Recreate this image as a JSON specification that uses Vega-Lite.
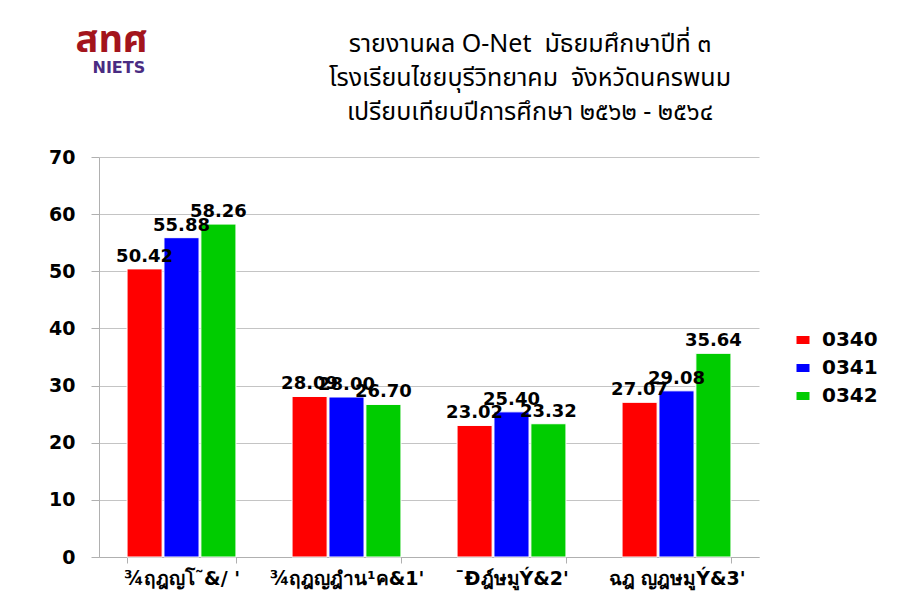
{
  "$schema": "https://vega.github.io/schema/vega-lite/v6.json",
  "width": 660,
  "height": 400,
  "autosize": {"type": "none"},
  "padding": {"left": 99, "top": 157, "right": 155, "bottom": 34},
  "background": "white",
  "config": {"view": {"stroke": null}},
  "title": {
    "text": ["รายงานผล O-Net \u00a0มัธยมศึกษาปีที่ ๓", "โรงเรียนไชยบุรีวิทยาคม \u00a0จังหวัดนครพนม", "เปรียบเทียบปีการศึกษา ๒๕๖๒ - ๒๕๖๔"],
    "anchor": "middle",
    "frame": "group",
    "dx": 101,
    "dy": 108,
    "font": "Noto Sans Thai",
    "fontSize": 25,
    "fontWeight": "normal",
    "color": "#000000",
    "lineHeight": 34
  },
  "data": {
    "values": [
      {"subject": "¾ฤฎญโ˜&/ '", "year": "0340", "score": 50.42},
      {"subject": "¾ฤฎญโ˜&/ '", "year": "0341", "score": 55.88},
      {"subject": "¾ฤฎญโ˜&/ '", "year": "0342", "score": 58.26},
      {"subject": "¾ฤฎญฎำน¹ค&1'", "year": "0340", "score": 28.09},
      {"subject": "¾ฤฎญฎำน¹ค&1'", "year": "0341", "score": 28.00},
      {"subject": "¾ฤฎญฎำน¹ค&1'", "year": "0342", "score": 26.70},
      {"subject": "¯Ðฎ์ษมูÝ&2'", "year": "0340", "score": 23.02},
      {"subject": "¯Ðฎ์ษมูÝ&2'", "year": "0341", "score": 25.40},
      {"subject": "¯Ðฎ์ษมูÝ&2'", "year": "0342", "score": 23.32},
      {"subject": "ฉฎ ญฎษมูÝ&3'", "year": "0340", "score": 27.07},
      {"subject": "ฉฎ ญฎษมูÝ&3'", "year": "0341", "score": 29.08},
      {"subject": "ฉฎ ญฎษมูÝ&3'", "year": "0342", "score": 35.64}
    ]
  },
  "encoding": {
    "x": {
      "field": "subject",
      "type": "nominal",
      "sort": null,
      "scale": {"paddingInner": 0.34, "paddingOuter": 0.17},
      "axis": {
        "labelAngle": 0,
        "labelFont": "DejaVu Sans",
        "labelFontWeight": "bold",
        "labelFontSize": 19,
        "labelColor": "#000000",
        "labelPadding": 6,
        "domainColor": "#b0b0b0",
        "tickColor": "#b0b0b0",
        "tickSize": 6,
        "tickBand": "extent",
        "title": "NIETS",
        "titleX": -7,
        "titleY": -485,
        "titleAlign": "left",
        "titleBaseline": "alphabetic",
        "titleFont": "DejaVu Sans",
        "titleFontWeight": "bold",
        "titleFontSize": 16,
        "titleColor": "#4a2c82"
      }
    },
    "xOffset": {"field": "year", "type": "nominal", "scale": {"paddingInner": 0.05}},
    "y": {
      "field": "score",
      "type": "quantitative",
      "scale": {"domain": [0, 70]},
      "axis": {
        "values": [0, 10, 20, 30, 40, 50, 60, 70],
        "labelFont": "DejaVu Sans",
        "labelFontWeight": "bold",
        "labelFontSize": 19,
        "labelColor": "#000000",
        "labelPadding": 16,
        "tickSize": 8,
        "tickColor": "#b0b0b0",
        "domainColor": "#b0b0b0",
        "gridColor": "#c4c4c4",
        "title": "สทศ",
        "titleX": -24,
        "titleY": -106,
        "titleAngle": 0,
        "titleAlign": "left",
        "titleBaseline": "alphabetic",
        "titleFont": "Noto Sans Thai",
        "titleFontWeight": "bold",
        "titleFontSize": 38,
        "titleColor": "#a3141c"
      }
    }
  },
  "layer": [
    {
      "mark": {"type": "bar", "stroke": "#ffffff", "strokeWidth": 1},
      "encoding": {
        "color": {
          "field": "year",
          "type": "nominal",
          "scale": {"domain": ["0340", "0341", "0342"], "range": ["#ff0000", "#0000ff", "#00cc00"]},
          "legend": {
            "orient": "none",
            "legendX": 694,
            "legendY": 173,
            "direction": "vertical",
            "title": null,
            "padding": 0,
            "labelFont": "DejaVu Sans",
            "labelFontWeight": "bold",
            "labelFontSize": 20,
            "labelColor": "#000000",
            "labelOffset": 9,
            "rowPadding": 8,
            "symbolType": "M-1,-0.62H1V0.62H-1Z",
            "symbolSize": 169,
            "symbolStrokeWidth": 0
          }
        }
      }
    },
    {
      "mark": {"type": "text", "dy": -7, "baseline": "alphabetic", "font": "DejaVu Sans", "fontWeight": "bold", "fontSize": 18, "color": "#000000"},
      "encoding": {"text": {"field": "score", "type": "quantitative", "format": ".2f"}}
    }
  ]
}
